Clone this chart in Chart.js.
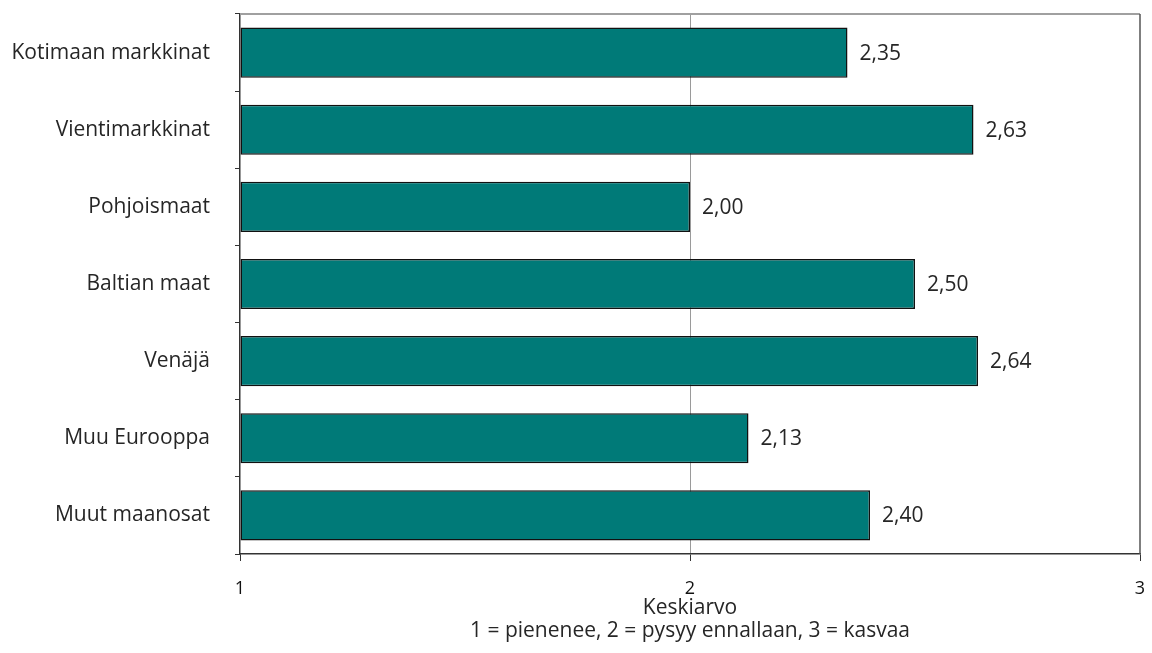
<!DOCTYPE html>
<html>
<head>
<meta charset="utf-8">
<script src="https://cdn.jsdelivr.net/npm/chart.js@4"></script>
<style>
  html, body { margin: 0; padding: 0; background: #fff; }
  #wrap { width: 1152px; height: 653px; }
</style>
</head>
<body>
<div id="wrap"><canvas id="chart" width="1152" height="653"></canvas></div>
<script>
'use strict';

// chart values
const categories = ['Kotimaan markkinat', 'Vientimarkkinat', 'Pohjoismaat', 'Baltian maat', 'Venäjä', 'Muu Eurooppa', 'Muut maanosat'];
const averages = [2.35, 2.63, 2.00, 2.50, 2.64, 2.13, 2.40];
const xTicks = [1, 2, 3];
const axisTitle = ['Keskiarvo', '1 = pienenee, 2 = pysyy ennallaan, 3 = kasvaa'];

const FONT = '"Open Sans", "Liberation Sans", sans-serif';
const TEXT = '#262626';

// value labels right of each bar, with Finnish decimal comma
const valueLabels = {
    id: 'valueLabels',
    afterDatasetsDraw(chart) {
        const ctx = chart.ctx;
        const meta = chart.getDatasetMeta(0);
        ctx.save();
        ctx.font = '21px ' + FONT;
        ctx.fillStyle = TEXT;
        ctx.textAlign = 'left';
        ctx.textBaseline = 'middle';
        meta.data.forEach((bar, i) => {
            ctx.fillText(averages[i].toFixed(2).replace('.', ','), bar.x + 12, bar.y + 1);
        });
        ctx.restore();
    }
};

// plot frame: light top line, dark right line
const frame = {
    id: 'frame',
    beforeDatasetsDraw(chart) {
        const { ctx, chartArea: a } = chart;
        ctx.save();
        ctx.strokeStyle = '#a0a0a0';
        ctx.lineWidth = 2;
        ctx.beginPath();
        ctx.moveTo(a.left, a.top);
        ctx.lineTo(a.right, a.top);
        ctx.stroke();
        ctx.strokeStyle = '#555555';
        ctx.lineWidth = 1.5;
        ctx.beginPath();
        ctx.moveTo(a.right, a.top);
        ctx.lineTo(a.right, a.bottom);
        ctx.stroke();
        ctx.restore();
    }
};

new Chart(document.getElementById('chart'), {
    type: 'bar',
    data: {
        labels: categories,
        datasets: [{
            data: averages,
            base: 1,
            backgroundColor: '#007a78',
            borderColor: '#111111',
            borderWidth: 1.5,
            borderSkipped: false,
            categoryPercentage: 1,
            barPercentage: 0.65
        }]
    },
    options: {
        indexAxis: 'y',
        responsive: false,
        animation: false,
        layout: { padding: { top: 14, right: 12, left: 0, bottom: 0 } },
        plugins: {
            legend: { display: false },
            tooltip: { enabled: false }
        },
        scales: {
            x: {
                min: 1,
                max: 3,
                afterBuildTicks(scale) {
                    scale.ticks = xTicks.map(v => ({ value: v }));
                },
                afterFit(scale) {
                    scale.height = 99;
                    scale.paddingLeft = 0;
                    scale.paddingRight = 0;
                },
                grid: {
                    color: ctx => ctx.tick && ctx.tick.value === 2 ? '#9a9a9a' : 'rgba(0,0,0,0)',
                    tickColor: '#333333',
                    tickLength: 7,
                    drawTicks: true
                },
                border: { color: '#333333', width: 1.5 },
                ticks: {
                    color: '#111111',
                    font: { family: FONT, size: 18 },
                    padding: 17,
                    maxRotation: 0,
                    callback: v => String(v)
                },
                title: {
                    display: true,
                    text: axisTitle,
                    color: TEXT,
                    font: { family: FONT, size: 21, lineHeight: '23px' },
                    padding: { top: 4, bottom: 10 }
                }
            },
            y: {
                afterFit(scale) {
                    scale.width = 240;
                    scale.paddingTop = 0;
                    scale.paddingBottom = 0;
                },
                grid: {
                    offset: true,
                    drawOnChartArea: false,
                    tickColor: '#333333',
                    tickLength: 5
                },
                border: { color: '#333333', width: 1.5 },
                ticks: {
                    color: TEXT,
                    font: { family: FONT, size: 21 },
                    padding: 25
                }
            }
        }
    },
    plugins: [frame, valueLabels]
});
</script>
</body>
</html>
